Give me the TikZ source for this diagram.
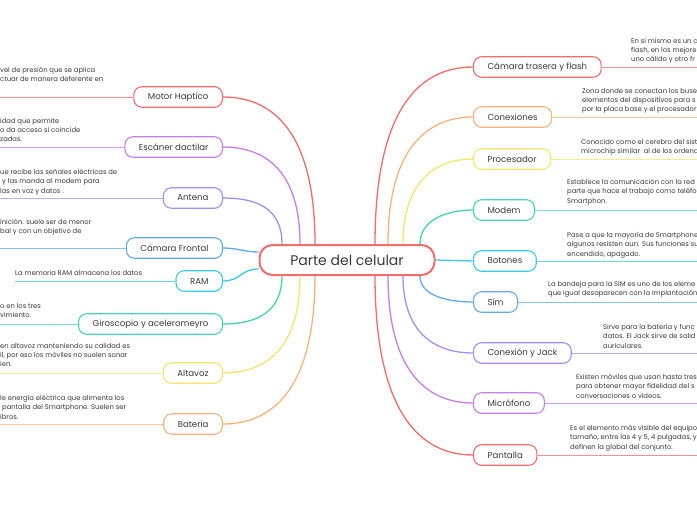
\documentclass[tikz,border=0pt]{standalone}
\usepackage{fontspec}
\setmainfont{Poppins}
\usetikzlibrary{calc}

\definecolor{cred}{HTML}{F36C6C}
\definecolor{corange}{HTML}{FFB07C}
\definecolor{cyellow}{HTML}{F6E46E}
\definecolor{cgreen}{HTML}{45D6AC}
\definecolor{ccyan}{HTML}{38CCDF}
\definecolor{cblue}{HTML}{62A9F4}
\definecolor{clav}{HTML}{A58CF8}
\definecolor{cpurple}{HTML}{C77DEB}
\definecolor{ink}{HTML}{3A3A3A}

\begin{document}
\begin{tikzpicture}[
  x=1pt, y=-1pt,
  font=\fontsize{8.6}{10}\selectfont,
  root/.style={
    draw=cred,
    fill=white,
    rounded corners=13pt,
    line width=2pt,
    minimum height=30pt,
    minimum width=175pt,
    text=ink,
    font=\fontsize{14}{16}\selectfont
  },
  topic/.style={
    draw=#1,
    fill=white,
    rounded corners=8pt,
    line width=1.1pt,
    minimum height=20.5pt,
    inner xsep=14pt,
    inner ysep=0pt,
    text=ink
  },
  branch/.style={draw=#1, line width=1.3pt},
  leaf/.style={draw=#1!75, line width=1pt},
  note/.style={font=\fontsize{6.8}{9.3}\selectfont, text=ink, align=left, inner sep=0pt, anchor=north west}
]

% marco
\fill[white] (0,0) rectangle (697,520);
\useasboundingbox (0,0) rectangle (697,520);
\coordinate (L) at (0,0);
\coordinate (R) at (697,0);

% nodo central
\node[root] (ctr) at (347,260) {Parte del celular};

% ramas izquierda
\node[topic=cred, anchor=east] (motor) at (223,97) {Motor Haptico};
\node[topic=cpurple, anchor=east] (escaner) at (223,147) {Escáner dactilar};
\node[topic=clav, anchor=east] (antena) at (223,198) {Antena};
\node[topic=cblue, anchor=east] (frontal) at (223,248) {Cámara Frontal};
\node[topic=ccyan, anchor=east] (ram) at (223,281) {RAM};
\node[topic=cgreen, anchor=east] (giro) at (223,324) {Giroscopio y aceleromeyro};
\node[topic=cyellow, anchor=east] (altavoz) at (223,373) {Altavoz};
\node[topic=corange, anchor=east] (bateria) at (223,424) {Bateria};

% ramas derecha
\node[topic=cred, anchor=west] (trasera) at (473,67) {Cámara trasera y flash};
\node[topic=corange, anchor=west] (conex) at (473,117) {Conexiones};
\node[topic=cyellow, anchor=west] (proc) at (473,159) {Procesador};
\node[topic=cgreen, anchor=west] (modem) at (473,210) {Modem};
\node[topic=ccyan, anchor=west] (botones) at (473,261) {Botones};
\node[topic=cblue, anchor=west] (sim) at (473,302) {Sim};
\node[topic=clav, anchor=west] (jack) at (473,353) {Conexión y Jack};
\node[topic=cpurple, anchor=west] (micro) at (473,403) {Micrófono};
\node[topic=cred, anchor=west] (pantalla) at (473,455) {Pantalla};

% conectores izquierda
\draw[branch=cred] ([xshift=-32pt]ctr.north) .. controls +(0,-105) and +(55,0) .. (motor.east);
\draw[branch=cpurple] ([xshift=-47pt]ctr.north) .. controls +(0,-70) and +(45,0) .. (escaner.east);
\draw[branch=clav] ([xshift=-65pt]ctr.north) .. controls +(0,-35) and +(35,0) .. (antena.east);
\draw[branch=cblue] ([yshift=8pt]ctr.west) .. controls +(-15,0) and +(15,0) .. (frontal.east);
\draw[branch=ccyan] ([yshift=-9pt]ctr.west) .. controls +(-18,0) and +(18,0) .. (ram.east);
\draw[branch=cgreen] ([xshift=-65pt]ctr.south) .. controls +(0,35) and +(35,0) .. (giro.east);
\draw[branch=cyellow] ([xshift=-47pt]ctr.south) .. controls +(0,70) and +(45,0) .. (altavoz.east);
\draw[branch=corange] ([xshift=-32pt]ctr.south) .. controls +(0,105) and +(55,0) .. (bateria.east);

% conectores derecha
\draw[branch=cred] ([xshift=28pt]ctr.north) .. controls +(0,-125) and +(-60,0) .. (trasera.west);
\draw[branch=corange] ([xshift=41pt]ctr.north) .. controls +(0,-90) and +(-50,0) .. (conex.west);
\draw[branch=cyellow] ([xshift=56pt]ctr.north) .. controls +(0,-60) and +(-40,0) .. (proc.west);
\draw[branch=cgreen] ([xshift=73pt]ctr.north) .. controls +(0,-25) and +(-25,0) .. (modem.west);
\draw[branch=ccyan] (ctr.east) -- (botones.west);
\draw[branch=cblue] ([xshift=73pt]ctr.south) .. controls +(0,20) and +(-25,0) .. (sim.west);
\draw[branch=clav] ([xshift=56pt]ctr.south) .. controls +(0,55) and +(-40,0) .. (jack.west);
\draw[branch=cpurple] ([xshift=41pt]ctr.south) .. controls +(0,90) and +(-50,0) .. (micro.west);
\draw[branch=cred] ([xshift=28pt]ctr.south) .. controls +(0,125) and +(-60,0) .. (pantalla.west);

% notas izquierda
\node[note] (motorN) at (0,67) {vel de presión que se aplica\\ctuar de manera deferente en};
\node[note] (escanerN) at (0,118) {idad que permite\\o da acceso si coincide\\zadas.};
\node[note] (antenaN) at (0,169) {ue recibe las señales eléctricas de\\\hspace{2pt}y las manda al modem para\\las en voz y datos .};
\node[note] (frontalN) at (0,219) {inición. suele ser de menor\\bal y con un objetivo de};
\node[note] (ramN) at (15,270) {La memoria RAM almacena los datos};
\node[note] (giroN) at (0,303) {o en los tres\\vimiento.};
\node[note] (altavozN) at (0,343) {en altavoz manteniendo su calidad es\\il, por eso los móviles no suelen sonar\\ien.};
\node[note] (bateriaN) at (0,395) {le energía eléctrica que alimenta los\\\hspace{2pt}pantalla del Smartphone. Suelen ser\\ibros.};

\draw[leaf=cred] (motor.west) -- (motor.west -| L);
\draw[leaf=cpurple] (escaner.west) -- (escaner.west -| L);
\draw[leaf=clav] (antena.west) -- (antena.west -| L);
\draw[leaf=cblue] (frontal.west) -- (frontal.west -| L);
\draw[leaf=ccyan] (ram.west) -- (ram.west -| ramN.west);
\draw[leaf=cgreen] (giro.west) -- (giro.west -| L);
\draw[leaf=cyellow] (altavoz.west) -- (altavoz.west -| L);
\draw[leaf=corange] (bateria.west) -- (bateria.west -| L);

% notas derecha
\node[note] (traseraN) at (631,38) {En si mismo es un c\\flash, en los mejore\\uno cálido y otro fr};
\node[note] (conexN) at (582,88) {Zona donde se conectan los buses\\elementos del dispositivos para s\\por la placa base y el procesador};
\node[note] (procN) at (581,139) {Conocido como el cerebro del sist\\microchip similar\ \ al de los ordena};
\node[note] (modemN) at (567,179) {Establece la comunicación con la red c\\parte que hace el trabajo como teléfo\\Smartphon.};
\node[note] (botonesN) at (567,232) {Pase a que la mayoría de Smartphone\\algunos resisten aun. Sus funciones su\\encendido, apagado.};
\node[note] (simN) at (548,281) {La bandeja para la SIM es uno de los eleme\\que igual desaparecen con la implantación.};
\node[note] (jackN) at (603,324) {Sirve para la batería y func\\datos. El Jack sirve de salid\\auriculares.};
\node[note] (microN) at (576,374) {Existen móviles que usan hasta tres\\para obtener mayor fidelidad del s\\conversaciones o videos.};
\node[note] (pantallaN) at (570,425) {Es el elemento más visible del equipo\\tamaño, entre las 4 y 5, 4 pulgadas, y\\definen la global del conjunto.};

\draw[leaf=cred] (trasera.east) -- (trasera.east -| R);
\draw[leaf=corange] (conex.east) -- (conex.east -| R);
\draw[leaf=cyellow] (proc.east) -- (proc.east -| R);
\draw[leaf=cgreen] (modem.east) -- (modem.east -| R);
\draw[leaf=ccyan] (botones.east) -- (botones.east -| R);
\draw[leaf=cblue] (sim.east) -- (sim.east -| R);
\draw[leaf=clav] (jack.east) -- (jack.east -| R);
\draw[leaf=cpurple] (micro.east) -- (micro.east -| R);
\draw[leaf=cred] (pantalla.east) -- (pantalla.east -| R);

\end{tikzpicture}
\end{document}
